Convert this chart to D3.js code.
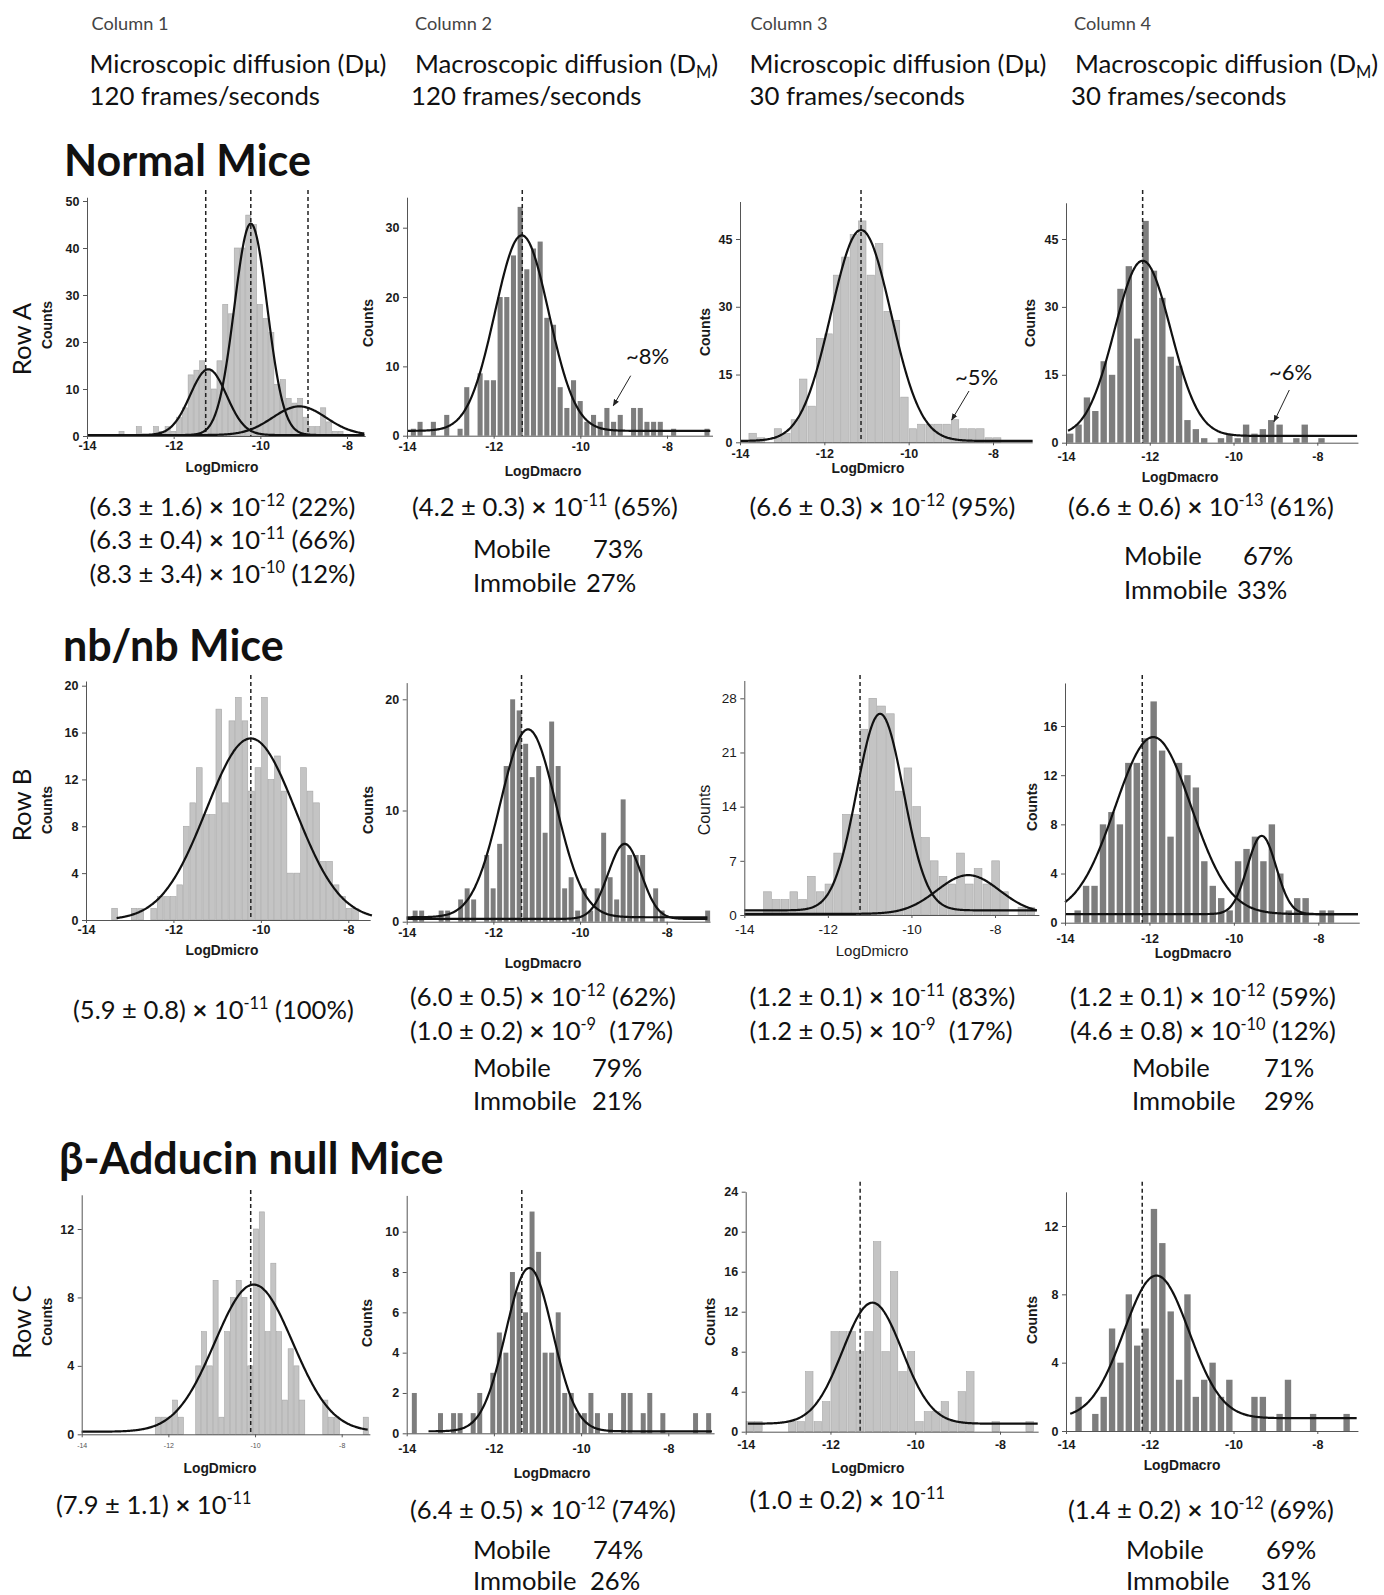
<!DOCTYPE html>
<html>
<head>
<meta charset="utf-8">
<title>Diffusion histograms</title>
<script src="https://cdn.jsdelivr.net/npm/d3@7"></script>
<style>
  body { margin: 0; background: #fff; }
  svg { display: block; }
  text { white-space: pre; }
</style>
</head>
<body>
<div id="chart"></div>
<script>
// ---------- values ----------
const xTicks = [-14, -12, -10, -8];

// histogram bins: [first bin start, bin width], then the counts of each bin
const binA1 = [-13.27, 0.133];
const countsA1 = [1,0,0,2,0,0,2,1,2,1,4,6,13,14,16,14,10,16,28,26,40,40,47,45,28,25,22,11,12,8,7,8,4,2,2,6,3,1,1];
const binA2 = [-13.93, 0.154];
const countsA2 = [1,2,0,2,0,3,0,1,7,0,9,8,8,20,20,26,33,24,27,28,17,16,7,4,8,5,2,3,2,4,2,3,0,4,4,2,2,2,0,1,0,0,0,0,1];
const binA3 = [-13.8, 0.2];
const countsA3 = [2,1,0,3,2,5,14,8,23,24,37,41,46,49,37,44,29,27,10,3,4,4,4,4,5,3,3,3,1,1];
const binA4 = [-14, 0.2];
const countsA4 = [2,4,10,7,18,15,34,39,23,49,38,32,19,17,5,3,1,0,1,2,1,4,2,3,5,4,0,1,4,0,1];

const binB1 = [-13.42, 0.149];
const countsB1 = [1,0,0,1,1,0,1,2,2,2,3,8,10,13,9,9,18,10,17,19,17,11,13,19,12,14,11,4,4,13,11,10,5,5,3,2,1,1];
const binB2 = [-13.88, 0.15];
const countsB2 = [1,1,0,0,1,1,0,2,3,2,0,6,3,7,14,20,19,16,13,14,8,18,14,3,4,1,3,1,3,8,4,2,11,6,6,6,0,3,1,0,0,0,0,0,0,1];
const binB3 = [-13.55, 0.21];
const countsB3 = [3,2,2,3,2,5,3,4,8,13,13,24,28,27,26,16,19,14,10,7,5,4,8,4,6,4,7,3,0,1,1];
const binB4 = [-13.8, 0.2];
const countsB4 = [1,3,3,8,9,8,13,13,15,18,14,7,13,12,11,5,3,2,1,5,6,7,5,8,4,1,2,2,0,1,1];

const binC1 = [-12.31, 0.1333];
const countsC1 = [1,1,1,2,1,0,0,4,6,4,9,1,6,8,9,8,4,12,13,6,10,6,2,5,4,2,0,0,0,2,1,1,0,0,0,0,1];
const binC2 = [-13.9, 0.15];
const countsC2 = [2,0,0,0,1,0,1,1,0,1,2,0,3,5,4,8,7,6,11,9,4,4,6,2,2,1,1,2,1,0,1,0,2,2,0,1,2,0,1,0,0,0,0,1,0,1];
const binC3 = [-14, 0.2];
const countsC3 = [1,1,0,0,0,1,1,6,1,3,10,10,10,8,10,19,8,16,6,8,1,2,2,3,1,4,6,0,0,1,0,0,0,1];
const binC4 = [-13.8, 0.2];
const countsC4 = [2,0,1,2,6,4,8,5,6,13,11,7,3,8,2,3,4,2,3,0,0,2,2,0,1,3,0,0,1,0,0,0,1];

// gaussian fits: [amplitude, mean, sd, baseline, from, to]
const fitsA1 = [[14, -11.2, 0.42, 0.2, -14, -7.6], [45, -10.22, 0.38, 0.2, -14, -7.6], [6.1, -9.1, 0.62, 0.2, -14, -7.6]];
const fitsA2 = [[28.2, -11.35, 0.62, 0.7, -14, -7.0]];
const fitsA3 = [[46.7, -11.13, 0.71, 0.3, -14, -7.05]];
const fitsA4 = [[38.7, -12.17, 0.67, 1.5, -13.95, -7.05]];
const fitsB1 = [[15.5, -10.23, 1.02, 0, -13.3, -7.45]];
const fitsB2 = [[16.9, -11.2, 0.64, 0.4, -14, -7.05], [6.75, -8.97, 0.38, 0.25, -14, -7.05]];
const fitsB3 = [[25.4, -10.75, 0.56, 0.6, -14, -7.0], [5.0, -8.64, 0.75, 0.15, -14, -7.0]];
const fitsB4 = [[14.4, -11.91, 0.9, 0.7, -14, -7.05], [6.37, -9.34, 0.34, 0.7, -14, -7.05]];
const fitsC1 = [[8.6, -10.03, 0.9, 0.15, -14, -7.4]];
const fitsC2 = [[8.1, -11.19, 0.54, 0.1, -13.5, -7.0]];
const fitsC3 = [[12.1, -11.01, 0.7, 0.8, -13.95, -7.1]];
const fitsC4 = [[8.35, -11.84, 0.78, 0.75, -13.9, -7.05]];

// dashed lines (mean log D)
const meansA1 = [-11.26, -10.22, -8.9];
const meansA2 = [-11.34];
const meansA3 = [-11.13];
const meansA4 = [-12.17];
const meansB1 = [-10.23];
const meansB2 = [-11.35];
const meansB3 = [-11.23];
const meansB4 = [-12.17];
const meansC1 = [-10.1];
const meansC2 = [-11.36];
const meansC3 = [-11.3];
const meansC4 = [-12.18];

const yTicksA1 = [0, 10, 20, 30, 40, 50];
const yTicksA2 = [0, 10, 20, 30];
const yTicksA3 = [0, 15, 30, 45];
const yTicksA4 = [0, 15, 30, 45];
const yTicksB1 = [0, 4, 8, 12, 16, 20];
const yTicksB2 = [0, 10, 20];
const yTicksB3 = [0, 7, 14, 21, 28];
const yTicksB4 = [0, 4, 8, 12, 16];
const yTicksC1 = [0, 4, 8, 12];
const yTicksC2 = [0, 2, 4, 6, 8, 10];
const yTicksC3 = [0, 4, 8, 12, 16, 20, 24];
const yTicksC4 = [0, 4, 8, 12];

// texts
const columnNames = ["Column 1", "Column 2", "Column 3", "Column 4"];
const columnKinds = ["Microscopic diffusion (Dμ)", "Macroscopic diffusion (D_{M})", "Microscopic diffusion (Dμ)", "Macroscopic diffusion (D_{M})"];
const columnRates = ["120 frames/seconds", "120 frames/seconds", "30 frames/seconds", "30 frames/seconds"];
const groupTitles = ["Normal Mice", "nb/nb Mice", "β-Adducin null Mice"];
const rowNames = ["Row A", "Row B", "Row C"];
const tailPercents = ["~8%", "~5%", "~6%"];

const notesA1 = ["(6.3 ± 1.6) × 10^{-12} (22%)", "(6.3 ± 0.4) × 10^{-11} (66%)", "(8.3 ± 3.4) × 10^{-10} (12%)"];
const notesA2 = ["(4.2 ± 0.3) × 10^{-11} (65%)"];
const notesA3 = ["(6.6 ± 0.3) × 10^{-12} (95%)"];
const notesA4 = ["(6.6 ± 0.6) × 10^{-13} (61%)"];
const notesB1 = ["(5.9 ± 0.8) × 10^{-11} (100%)"];
const notesB2 = ["(6.0 ± 0.5) × 10^{-12} (62%)", "(1.0 ± 0.2) × 10^{-9}  (17%)"];
const notesB3 = ["(1.2 ± 0.1) × 10^{-11} (83%)", "(1.2 ± 0.5) × 10^{-9}  (17%)"];
const notesB4 = ["(1.2 ± 0.1) × 10^{-12} (59%)", "(4.6 ± 0.8) × 10^{-10} (12%)"];
const notesC1 = ["(7.9 ± 1.1) × 10^{-11}"];
const notesC2 = ["(6.4 ± 0.5) × 10^{-12} (74%)"];
const notesC3 = ["(1.0 ± 0.2) × 10^{-11}"];
const notesC4 = ["(1.4 ± 0.2) × 10^{-12} (69%)"];

const mobileA2 = [["Mobile", "73%"], ["Immobile", "27%"]];
const mobileA4 = [["Mobile", "67%"], ["Immobile", "33%"]];
const mobileB2 = [["Mobile", "79%"], ["Immobile", "21%"]];
const mobileB4 = [["Mobile", "71%"], ["Immobile", "29%"]];
const mobileC2 = [["Mobile", "74%"], ["Immobile", "26%"]];
const mobileC4 = [["Mobile", "69%"], ["Immobile", "31%"]];

// ---------- layout (pixels) ----------
const panels = [
  { bin: binA1, counts: countsA1, fits: fitsA1, means: meansA1, yTicks: yTicksA1, kind: 'micro', label: 'LogDmicro',
    px: [87, 347], xEnd: -7.58, py: [436, 201], yTop: 50.8, dashTop: 190, tickOff: 10, labelX: 222, labelY: 467, countsX: 47, countsY: 325 },
  { bin: binA2, counts: countsA2, fits: fitsA2, means: meansA2, yTicks: yTicksA2, kind: 'macro', label: 'LogDmacro',
    px: [407, 667], xEnd: -6.95, py: [435.7, 227.7], yTop: 34.4, dashTop: 190, tickOff: 10.5, labelX: 543, labelY: 471, countsX: 368, countsY: 323 },
  { bin: binA3, counts: countsA3, fits: fitsA3, means: meansA3, yTicks: yTicksA3, kind: 'micro', label: 'LogDmicro',
    px: [740, 993], xEnd: -7.07, py: [442.3, 239], yTop: 53.3, dashTop: 190, tickOff: 11, labelX: 868, labelY: 468, countsX: 705, countsY: 332 },
  { bin: binA4, counts: countsA4, fits: fitsA4, means: meansA4, yTicks: yTicksA4, kind: 'macro', label: 'LogDmacro',
    px: [1066, 1317.3], xEnd: -7.03, py: [442.7, 239], yTop: 53, dashTop: 190, tickOff: 14, labelX: 1180, labelY: 477.5, countsX: 1030, countsY: 323 },

  { bin: binB1, counts: countsB1, fits: fitsB1, means: meansB1, yTicks: yTicksB1, kind: 'micro', label: 'LogDmicro',
    px: [86, 348.3], xEnd: -7.5, py: [920, 685.7], yTop: 20.4, dashTop: 675, tickOff: 10, labelX: 222, labelY: 950, countsX: 47, countsY: 810 },
  { bin: binB2, counts: countsB2, fits: fitsB2, means: meansB2, yTicks: yTicksB2, kind: 'macro', label: 'LogDmacro',
    px: [406.7, 666.7], xEnd: -7.0, py: [921.7, 699.3], yTop: 21.5, dashTop: 675, tickOff: 10.5, labelX: 543, labelY: 963, countsX: 368, countsY: 810 },
  { bin: binB3, counts: countsB3, fits: fitsB3, means: meansB3, yTicks: yTicksB3, kind: 'micro', label: 'LogDmicro', light: true,
    px: [744.3, 995], xEnd: -6.95, py: [915, 698.3], yTop: 30.3, dashTop: 675, tickOff: 14, labelX: 872, labelY: 950.7, countsX: 704, countsY: 810 },
  { bin: binB4, counts: countsB4, fits: fitsB4, means: meansB4, yTicks: yTicksB4, kind: 'macro', label: 'LogDmacro',
    px: [1065, 1318.3], xEnd: -7.03, py: [922.7, 726], yTop: 19.5, dashTop: 675, tickOff: 16, labelX: 1193, labelY: 953.3, countsX: 1031.7, countsY: 807 },

  { bin: binC1, counts: countsC1, fits: fitsC1, means: meansC1, yTicks: yTicksC1, kind: 'micro', label: 'LogDmicro', tinyX: true,
    px: [81.7, 341.7], xEnd: -7.35, py: [1434.3, 1229], yTop: 14, dashTop: 1190, tickOff: 11.4, labelX: 220, labelY: 1467.7, countsX: 47.3, countsY: 1321.7 },
  { bin: binC2, counts: countsC2, fits: fitsC2, means: meansC2, yTicks: yTicksC2, kind: 'macro', label: 'LogDmacro',
    px: [406.7, 668.3], xEnd: -6.95, py: [1433.3, 1231.7], yTop: 11.8, dashTop: 1190, tickOff: 15.7, labelX: 552, labelY: 1473.3, countsX: 367, countsY: 1323 },
  { bin: binC3, counts: countsC3, fits: fitsC3, means: meansC3, yTicks: yTicksC3, kind: 'micro', label: 'LogDmicro',
    px: [745.7, 1000], xEnd: -7.1, py: [1431.7, 1191.7], yTop: 24, dashTop: 1181.7, tickOff: 13.3, labelX: 868, labelY: 1468.3, countsX: 710, countsY: 1321.7 },
  { bin: binC4, counts: countsC4, fits: fitsC4, means: meansC4, yTicks: yTicksC4, kind: 'macro', label: 'LogDmacro',
    px: [1066, 1317.3], xEnd: -7.03, py: [1431, 1226], yTop: 14.0, dashTop: 1181.7, tickOff: 14, labelX: 1182, labelY: 1465, countsX: 1031.7, countsY: 1320 }
];

const headerX = [[91.5, 89.5, 89.5], [415, 415, 411], [750.5, 749.5, 749.5], [1074, 1075, 1071]];
const headerY = [23.4, 64, 95.6];
const titleLayout = [[64, 160.7], [63, 645.7], [59, 1159]];
const rowLayout = [[22, 339], [22, 805], [22, 1322]];
const tailLayout = [
  { tx: 647.5, ty: 356, a: [630.7, 375.7, 613.3, 405.7] },
  { tx: 976.5, ty: 377, a: [969, 391, 951.7, 420] },
  { tx: 1290.5, ty: 372, a: [1289.3, 390, 1274, 421.7] }
];
const noteBlocks = [
  { lines: notesA1, x: 89.5, y: [506.4, 540, 573.5] },
  { lines: notesA2, x: 412, y: [506.4] },
  { lines: notesA3, x: 749.5, y: [506.4] },
  { lines: notesA4, x: 1068, y: [506.4] },
  { lines: notesB1, x: 73, y: [1010] },
  { lines: notesB2, x: 410, y: [996.6, 1031] },
  { lines: notesB3, x: 749.5, y: [996.6, 1031] },
  { lines: notesB4, x: 1070, y: [996.6, 1031] },
  { lines: notesC1, x: 56, y: [1505] },
  { lines: notesC2, x: 410, y: [1510] },
  { lines: notesC3, x: 749.5, y: [1500] },
  { lines: notesC4, x: 1068, y: [1510] }
];
const mobileBlocks = [
  { rows: mobileA2, x: 473, vx: [593, 586], y: [549, 583] },
  { rows: mobileA4, x: 1124, vx: [1243, 1237], y: [556, 590] },
  { rows: mobileB2, x: 473, vx: [592, 592], y: [1068, 1101] },
  { rows: mobileB4, x: 1132, vx: [1264, 1264], y: [1068, 1101] },
  { rows: mobileC2, x: 473, vx: [593, 590], y: [1550, 1581] },
  { rows: mobileC4, x: 1126, vx: [1266, 1261], y: [1550, 1581] }
];

const TEXT_FONT = "Lato, 'Open Sans', 'Noto Sans', sans-serif";
const AXIS_FONT = "'Liberation Sans', Arial, sans-serif";

const svg = d3.select('#chart').append('svg')
  .attr('width', 1384).attr('height', 1595)
  .style('background', '#fff');

svg.append('defs').append('marker')
  .attr('id', 'arrow')
  .attr('viewBox', '0 0 10 10')
  .attr('refX', 9).attr('refY', 5)
  .attr('markerWidth', 7).attr('markerHeight', 7)
  .attr('orient', 'auto')
  .append('path').attr('d', 'M0,1 L10,5 L0,9 Z').attr('fill', '#222');

// text with ^{sup} and _{sub} markup
function rich(t, str, fs) {
  const parts = str.split(/(\^\{[^}]*\}|_\{[^}]*\}|×)/).filter(s => s.length);
  let shift = 0;
  parts.forEach(p => {
    let target = 0, txt = p, size = null, bold = false;
    if (p.startsWith('^{')) { target = -0.38 * fs; txt = p.slice(2, -1); size = 0.64 * fs; }
    else if (p.startsWith('_{')) { target = 0.2 * fs; txt = p.slice(2, -1); size = 0.64 * fs; }
    else if (p === '×') bold = true;
    const ts = t.append('tspan').attr('dy', target - shift).text(txt);
    if (size) ts.attr('font-size', size);
    if (bold) ts.attr('font-weight', 'bold');
    shift = target;
  });
}

function fitSize(str, weight, targetW) {
  const t = svg.append('text').attr('font-family', TEXT_FONT).attr('font-weight', weight).attr('font-size', 100);
  rich(t, str, 100);
  const w = t.node().getComputedTextLength();
  t.remove();
  return 100 * targetW / w;
}

function addText(str, x, yc, fs, opts = {}) {
  const t = svg.append('text')
    .attr('x', x).attr('y', yc + 0.36 * fs)
    .attr('font-family', TEXT_FONT)
    .attr('font-size', fs)
    .attr('font-weight', opts.weight || 'normal')
    .attr('fill', opts.fill || '#111')
    .attr('text-anchor', opts.anchor || 'start');
  rich(t, str, fs);
  return t;
}

// ---------- panels ----------
function drawPanel(p) {
  const base = d3.scaleLinear().domain([-14, -8]).range(p.px);
  const x = d3.scaleLinear().domain([-14, p.xEnd]).range([base(-14), base(p.xEnd)]);
  const yMax = p.yTicks[p.yTicks.length - 1];
  const yBase = d3.scaleLinear().domain([0, yMax]).range(p.py);
  const y = d3.scaleLinear().domain([0, p.yTop]).range([yBase(0), yBase(p.yTop)]);
  const g = svg.append('g');
  const macro = p.kind === 'macro';

  const [start, w] = p.bin;
  const bw = x(start + w) - x(start);
  const frac = macro ? 0.76 : 0.88;
  const bars = p.counts.map((c, i) => ({ c, v: start + i * w })).filter(d => d.c > 0);
  g.selectAll('rect').data(bars).join('rect')
    .attr('x', d => x(d.v) + bw * (1 - frac) / 2)
    .attr('width', bw * frac)
    .attr('y', d => y(d.c))
    .attr('height', d => y(0) - y(d.c))
    .attr('fill', macro ? '#7d7d7d' : '#c4c4c4')
    .attr('stroke', macro ? 'none' : '#a6a6a6')
    .attr('stroke-width', 0.6);

  g.selectAll('line.mean').data(p.means).join('line')
    .attr('class', 'mean')
    .attr('x1', d => x(d)).attr('x2', d => x(d))
    .attr('y1', p.dashTop).attr('y2', y(0))
    .attr('stroke', '#222').attr('stroke-width', 1.5)
    .attr('stroke-dasharray', '4,3');

  const line = d3.line().x(d => x(d[0])).y(d => y(d[1])).curve(d3.curveBasis);
  p.fits.forEach(([a, m, s, b, from, to]) => {
    const pts = d3.range(from, to + 1e-9, 0.02).map(v => [v, b + a * Math.exp(-((v - m) ** 2) / (2 * s * s))]);
    g.append('path').datum(pts).attr('d', line)
      .attr('fill', 'none').attr('stroke', '#111').attr('stroke-width', 2.2);
  });

  const weight = p.light ? 'normal' : 'bold';
  const fsTick = p.light ? 13.5 : 12.5;
  const fsX = p.tinyX ? 7 : fsTick;
  const xa = g.append('g').attr('transform', `translate(0,${y(0)})`)
    .call(d3.axisBottom(x).tickValues(xTicks).tickFormat(d => String(d))
      .tickSize(3).tickSizeOuter(0)
      .tickPadding(p.tickOff - 0.36 * fsX - 3));
  const ya = g.append('g').attr('transform', `translate(${x(-14)},0)`)
    .call(d3.axisLeft(y).tickValues(p.yTicks).tickSize(4).tickSizeOuter(0).tickPadding(3.5));
  [xa, ya].forEach(a => {
    a.select('.domain').attr('stroke', '#555').attr('stroke-width', 1);
    a.selectAll('.tick line').attr('stroke', '#555');
    a.selectAll('.tick text').attr('font-family', AXIS_FONT).attr('font-weight', weight)
      .attr('font-size', fsTick).attr('fill', '#1a1a1a');
  });
  if (p.tinyX) xa.selectAll('.tick text').attr('font-weight', 'normal').attr('font-size', fsX).attr('fill', '#555');

  g.append('text').attr('x', p.labelX).attr('y', p.labelY).attr('dy', '0.36em')
    .attr('text-anchor', 'middle').attr('font-family', AXIS_FONT).attr('font-weight', weight)
    .attr('font-size', p.light ? 15 : 13.8).attr('fill', '#1a1a1a').text(p.label);
  g.append('text').attr('transform', `translate(${p.countsX},${p.countsY}) rotate(-90)`)
    .attr('dy', '0.36em').attr('text-anchor', 'middle').attr('font-family', AXIS_FONT)
    .attr('font-weight', weight).attr('font-size', p.light ? 16 : 14).attr('fill', '#1a1a1a').text('Counts');
}
panels.forEach(drawPanel);

// ---------- header and labels ----------
const fsCol = fitSize(columnNames[0], 'normal', 77);
const fsHead = fitSize(columnKinds[0], 'normal', 297);
const fsTitle = fitSize(groupTitles[0], 'bold', 247);
const fsNote = fitSize(notesA1[0], 'normal', 266);

columnNames.forEach((name, i) => {
  addText(name, headerX[i][0], headerY[0], fsCol, { fill: '#444' });
  addText(columnKinds[i], headerX[i][1], headerY[1], fsHead);
  addText(columnRates[i], headerX[i][2], headerY[2], fsHead);
});

groupTitles.forEach((t, i) => addText(t, titleLayout[i][0], titleLayout[i][1], fsTitle, { weight: 'bold' }));

rowNames.forEach((r, i) => {
  svg.append('text')
    .attr('transform', `translate(${rowLayout[i][0]},${rowLayout[i][1]}) rotate(-90)`)
    .attr('dy', '0.36em').attr('text-anchor', 'middle')
    .attr('font-family', TEXT_FONT).attr('font-size', fsHead).attr('fill', '#111').text(r);
});

tailPercents.forEach((t, i) => {
  const L = tailLayout[i];
  addText(t, L.tx, L.ty, 22, { anchor: 'middle' });
  svg.append('line').attr('x1', L.a[0]).attr('y1', L.a[1]).attr('x2', L.a[2]).attr('y2', L.a[3])
    .attr('stroke', '#222').attr('stroke-width', 1).attr('marker-end', 'url(#arrow)');
});

noteBlocks.forEach(b => b.lines.forEach((s, i) => addText(s, b.x, b.y[i], fsNote)));
mobileBlocks.forEach(b => b.rows.forEach((r, i) => {
  addText(r[0], b.x, b.y[i], fsNote);
  addText(r[1], b.vx[i], b.y[i], fsNote);
}));
</script>
</body>
</html>
